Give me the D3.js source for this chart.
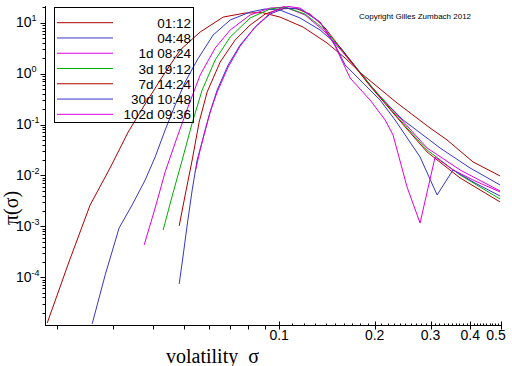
<!DOCTYPE html>
<html><head><meta charset="utf-8">
<script src="https://cdn.jsdelivr.net/npm/d3@7"></script>
<style>body{margin:0;background:#fff;overflow:hidden}</style>
</head><body>
<svg id="c" width="512" height="366"></svg>
<script>
// ---- data ----
const seriesNames = ["01:12", "04:48", "1d 08:24", "3d 19:12", "7d 14:24", "30d 10:48", "102d 09:36"];
const seriesColors = ["#b00000", "#3636c8", "#e000e0", "#00b000", "#b00000", "#3636c8", "#e000e0"];

const sigma_0112 = [0.0186,0.02166,0.02539,0.02934,0.03346,0.03785,0.04281,0.04879,0.0564,0.06664,0.07818,0.08842,0.1007,0.119,0.1416,0.1614,0.1839,0.2352,0.2988,0.3381,0.4081,0.4965];
const pi_0112    = [1.26e-5,1.82e-4,0.00263,0.014,0.0713,0.253,0.857,2.91,6.56,12.9,15.5,15.8,12.9,8.2,3.99,2.02,0.939,0.265,0.0855,0.0497,0.0184,0.00975];

const sigma_0448 = [0.02577,0.02832,0.03133,0.03444,0.03785,0.04069,0.04375,0.04705,0.05059,0.05519,0.06197,0.07011,0.08103,0.09035,0.1007,0.1164,0.1346,0.1556,0.1735,0.208,0.2457,0.3213,0.3994,0.4965];
const pi_0448    = [1.21e-5,1.11e-4,9.29e-4,0.00263,0.00813,0.023,0.078,0.242,0.684,1.85,5.73,11.3,16.2,18.6,17.7,12.4,7.18,3.33,1.41,0.347,0.123,0.0346,0.014,0.00649];

const sigma_1d = [0.03757,0.04069,0.04375,0.04774,0.05193,0.0564,0.06287,0.07011,0.08103,0.09369,0.1044,0.1207,0.1396,0.1614,0.1934,0.2404,0.2924,0.3715,0.4965];
const pi_1d    = [4.3e-4,0.00229,0.0117,0.0569,0.242,0.939,3.18,7.18,14.2,19.4,20.3,14.2,6.56,2.32,0.597,0.134,0.0346,0.0128,0.00494];

const sigma_3d = [0.04312,0.04604,0.04951,0.05323,0.05722,0.06287,0.07011,0.08103,0.09369,0.1044,0.1207,0.1396,0.1614,0.1934,0.2404,0.2924,0.3715,0.4965];
const pi_3d    = [8.48e-4,0.00394,0.0201,0.107,0.476,1.85,5.23,12.4,18.6,20.3,14.8,7.18,2.43,0.597,0.123,0.0316,0.0102,0.00344];

const sigma_7d = [0.04844,0.05059,0.05323,0.05599,0.05932,0.06521,0.07268,0.08103,0.09035,0.1007,0.1123,0.1252,0.1396,0.1614,0.1934,0.2404,0.2924,0.3715,0.4965];
const pi_7d    = [0.00102,0.00413,0.0201,0.112,0.435,1.69,4.57,9.0,14.8,18.6,19.4,14.8,7.87,2.43,0.571,0.117,0.0289,0.00891,0.00301];

const sigma_30d = [0.04844,0.04987,0.05133,0.05323,0.05519,0.05765,0.06063,0.0638,0.0691,0.0754,0.08401,0.09369,0.1044,0.1164,0.1346,0.1501,0.1614,0.1799,0.208,0.2318,0.278,0.3145,0.3531,0.414,0.4965];
const pi_30d    = [7.38e-5,2.72e-4,0.00106,0.00518,0.0201,0.0544,0.176,0.476,1.48,3.65,8.2,14.8,19.4,18.6,10.3,3.65,1.48,0.749,0.303,0.123,0.023,0.00413,0.0128,0.0071,0.00394];

const sigma_102d = [0.0544,0.0564,0.05847,0.06063,0.0638,0.0691,0.0754,0.08401,0.09369,0.1044,0.1164,0.1346,0.1501,0.1673,0.1934,0.2157,0.2285,0.2529,0.278,0.31,0.3531,0.414,0.4965];
const pi_102d    = [0.0117,0.0316,0.078,0.176,0.435,1.35,3.48,8.2,15.5,21.3,19.4,10.3,3.48,0.82,0.303,0.123,0.0623,0.00593,0.00116,0.023,0.0128,0.00778,0.00473];

const sigmaSeries = [sigma_0112, sigma_0448, sigma_1d, sigma_3d, sigma_7d, sigma_30d, sigma_102d];
const piSeries    = [pi_0112, pi_0448, pi_1d, pi_3d, pi_7d, pi_30d, pi_102d];

const xTickValues = [0.1, 0.2, 0.3, 0.4, 0.5];
const xTickLabels = ["0.1", "0.2", "0.3", "0.4", "0.5"];
const yTickExponents = [1, 0, -1, -2, -3, -4];

const xLabel = "volatility  σ";
const yLabel = "π(σ)";
const copyright = "Copyright Gilles Zumbach 2012";

// ---- drawing ----
const svg = d3.select("#c");
const x = d3.scaleLog().domain([0.0183, 0.5]).range([45, 501]);
const y = d3.scaleLog().domain([1.15e-5, 21.3]).range([325, 6]);

svg.append("defs").append("clipPath").attr("id", "plotclip")
  .append("rect").attr("x", 45).attr("y", 6).attr("width", 456).attr("height", 319);

const line = d3.line().x(d => x(d[0])).y(d => y(d[1]));
const g = svg.append("g").attr("clip-path", "url(#plotclip)");
sigmaSeries.forEach((s, i) => {
  const pts = s.map((v, j) => [v, piSeries[i][j]]);
  g.append("path").datum(pts).attr("d", line)
    .attr("fill", "none").attr("stroke", seriesColors[i]).attr("stroke-width", 1);
});

// y axis
const yAxisX = 45.5;
svg.append("line").attr("x1", yAxisX).attr("x2", yAxisX).attr("y1", 6).attr("y2", 326)
  .attr("stroke", "#000").attr("stroke-width", 1);
const yMinor = [];
for (let e = -5; e <= 1; e++) for (let k = 2; k <= 9; k++) {
  const v = k * Math.pow(10, e);
  if (v > y.domain()[0] && v < y.domain()[1]) yMinor.push(v);
}
svg.selectAll(".ymin").data(yMinor).enter().append("line")
  .attr("x1", yAxisX - 3).attr("x2", yAxisX).attr("y1", d => Math.round(y(d)) + 0.5).attr("y2", d => Math.round(y(d)) + 0.5)
  .attr("stroke", "#000").attr("stroke-width", 1);
const yMaj = yTickExponents.map(e => Math.pow(10, e));
svg.selectAll(".ymaj").data(yMaj).enter().append("line")
  .attr("x1", yAxisX - 5).attr("x2", yAxisX).attr("y1", d => Math.round(y(d)) + 0.5).attr("y2", d => Math.round(y(d)) + 0.5)
  .attr("stroke", "#000").attr("stroke-width", 1);
yTickExponents.forEach(e => {
  const yy = y(Math.pow(10, e));
  const t = svg.append("text").attr("x", 16).attr("y", yy + 4.5)
    .attr("font-family", "Liberation Sans, Arial, sans-serif").attr("font-size", 14).attr("fill", "#000");
  t.append("tspan").text("10");
  t.append("tspan").attr("dy", -6).attr("font-size", 9).text(String(e).replace("-", "-"));
});

// x axis
const xAxisY = 325.5;
svg.append("line").attr("x1", 45).attr("x2", 501).attr("y1", xAxisY).attr("y2", xAxisY)
  .attr("stroke", "#000").attr("stroke-width", 1);
const xMinorLow = [];
for (let k = 2; k <= 9; k++) xMinorLow.push(k * 0.01);
svg.selectAll(".xminl").data(xMinorLow).enter().append("line")
  .attr("x1", d => Math.round(x(d)) + 0.5).attr("x2", d => Math.round(x(d)) + 0.5)
  .attr("y1", xAxisY).attr("y2", xAxisY + 4).attr("stroke", "#000");
const xMinorHigh = [];
for (let k = 11; k < 50; k++) if (k % 10 !== 0) xMinorHigh.push(k / 100);
svg.selectAll(".xminh").data(xMinorHigh).enter().append("line")
  .attr("x1", d => Math.round(x(d)) + 0.5).attr("x2", d => Math.round(x(d)) + 0.5)
  .attr("y1", xAxisY - 2).attr("y2", xAxisY).attr("stroke", "#000");
svg.selectAll(".xmaj").data(xTickValues).enter().append("line")
  .attr("x1", d => Math.round(x(d)) + 0.5).attr("x2", d => Math.round(x(d)) + 0.5)
  .attr("y1", xAxisY - 4).attr("y2", xAxisY + 4).attr("stroke", "#000");
xTickValues.forEach((v, i) => {
  const last = i === xTickValues.length - 1;
  svg.append("text").attr("x", last ? x(v) - 5 : x(v)).attr("y", 340)
    .attr("text-anchor", "middle")
    .attr("font-family", "Liberation Sans, Arial, sans-serif").attr("font-size", 14).attr("fill", "#000")
    .text(xTickLabels[i]);
});

// axis titles
svg.append("text").attr("x", 166).attr("y", 363)
  .attr("font-family", "Liberation Serif, Times New Roman, serif").attr("font-size", 20).attr("fill", "#000")
  .attr("xml:space", "preserve").style("white-space", "pre")
  .text(xLabel);
svg.append("text").attr("transform", "translate(18,208) rotate(-90)")
  .attr("text-anchor", "middle")
  .attr("font-family", "Liberation Serif, Times New Roman, serif").attr("font-size", 20).attr("fill", "#000")
  .text(yLabel);

// copyright
svg.append("text").attr("x", 359).attr("y", 19)
  .attr("font-family", "Liberation Sans, Arial, sans-serif").attr("font-size", 8).attr("fill", "#000")
  .text(copyright);

// legend
const legX = 54.5, legY = 7.5, legW = 139, legH = 115;
svg.append("rect").attr("x", legX).attr("y", legY).attr("width", legW).attr("height", legH)
  .attr("fill", "none").attr("stroke", "#000").attr("stroke-width", 1);
seriesNames.forEach((n, i) => {
  const ly = 22.7 + i * 15.27;
  svg.append("line").attr("x1", 57).attr("x2", 113).attr("y1", ly).attr("y2", ly)
    .attr("stroke", seriesColors[i]).attr("stroke-width", 1);
  svg.append("text").attr("x", 191).attr("y", ly + 5).attr("text-anchor", "end")
    .attr("font-family", "Liberation Sans, Arial, sans-serif").attr("font-size", 13.5).attr("fill", "#000")
    .text(n);
});
</script>
</body></html>
